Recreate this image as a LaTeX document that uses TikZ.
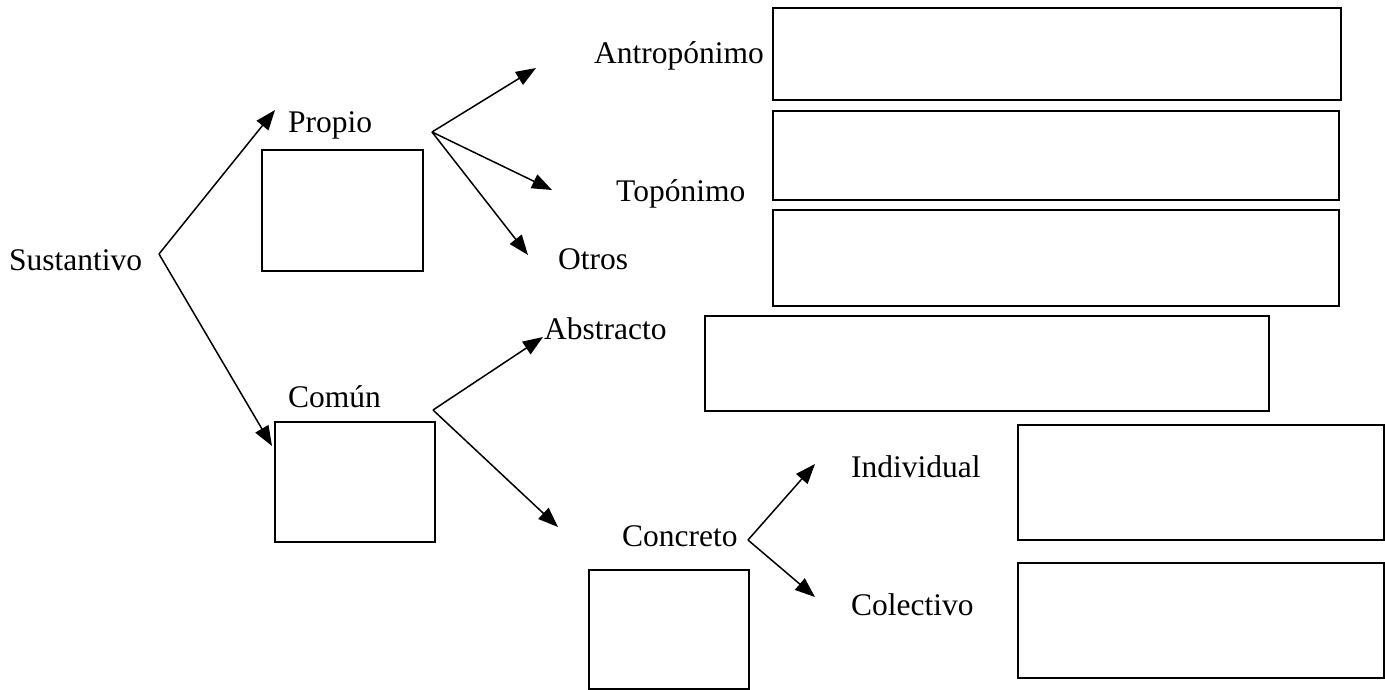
\documentclass[tikz,border=0pt]{standalone}
\usepackage{fontspec}
\setmainfont{Liberation Serif}
\usetikzlibrary{arrows.meta}
\tikzset{
  lbl/.style={inner sep=0pt, anchor=base west, font=\fontsize{31.5}{37}\selectfont},
  blank/.style={draw, line width=1.6pt, inner sep=0pt, anchor=north west},
  conn/.style={line width=1.5pt, -{Triangle[length=20pt,width=15pt]}},
}
\begin{document}
\begin{tikzpicture}[x=1pt,y=-1pt]
\useasboundingbox (0,0) rectangle (1385,689);
% labels
\node[lbl] (sust) at (9,270) {Sustantivo};
\node[lbl] (prop) at (288,132) {Propio};
\node[lbl] (antr) at (594,63) {Antropónimo};
\node[lbl] (topo) at (616,201) {Topónimo};
\node[lbl] (otro) at (558,269) {Otros};
\node[lbl] (abst) at (544,339) {Abstracto};
\node[lbl] (comu) at (288,407) {Común};
\node[lbl] (conc) at (622,546) {Concreto};
\node[lbl] (indi) at (851,477) {Individual};
\node[lbl] (cole) at (851,615) {Colectivo};
% boxes
\node[blank, minimum width=161pt, minimum height=121pt] (bP) at (261,149) {};
\node[blank, minimum width=568pt, minimum height=92pt] (bA) at (772,7) {};
\node[blank, minimum width=566pt, minimum height=89pt] (bT) at (772,110) {};
\node[blank, minimum width=566pt, minimum height=96pt] (bO) at (772,209) {};
\node[blank, minimum width=564pt, minimum height=95pt] (bAb) at (704,315) {};
\node[blank, minimum width=160pt, minimum height=120pt] (bC) at (274,421) {};
\node[blank, minimum width=160pt, minimum height=119pt] (bCo) at (588,569) {};
\node[blank, minimum width=366pt, minimum height=115pt] (bI) at (1017,424) {};
\node[blank, minimum width=366pt, minimum height=115pt] (bCl) at (1017,562) {};
% branch points and arrow ends
\coordinate (vS) at (159,254);
\coordinate (tP) at (275,110);
\coordinate (tC) at (272,446);
\coordinate (vP) at (432,132);
\coordinate (tA) at (536,68);
\coordinate (tT) at (552,190);
\coordinate (tO) at (528,255);
\coordinate (vC) at (433,410);
\coordinate (tAb) at (543,337);
\coordinate (tCo) at (558,527);
\coordinate (vCo) at (748,540);
\coordinate (tI) at (815,464);
\coordinate (tCl) at (815,597);
% connectors
\draw[conn] (vS) -- (tP);
\draw[conn] (vS) -- (tC);
\draw[conn] (vP) -- (tA);
\draw[conn] (vP) -- (tT);
\draw[conn] (vP) -- (tO);
\draw[conn] (vC) -- (tAb);
\draw[conn] (vC) -- (tCo);
\draw[conn] (vCo) -- (tI);
\draw[conn] (vCo) -- (tCl);
\end{tikzpicture}
\end{document}
